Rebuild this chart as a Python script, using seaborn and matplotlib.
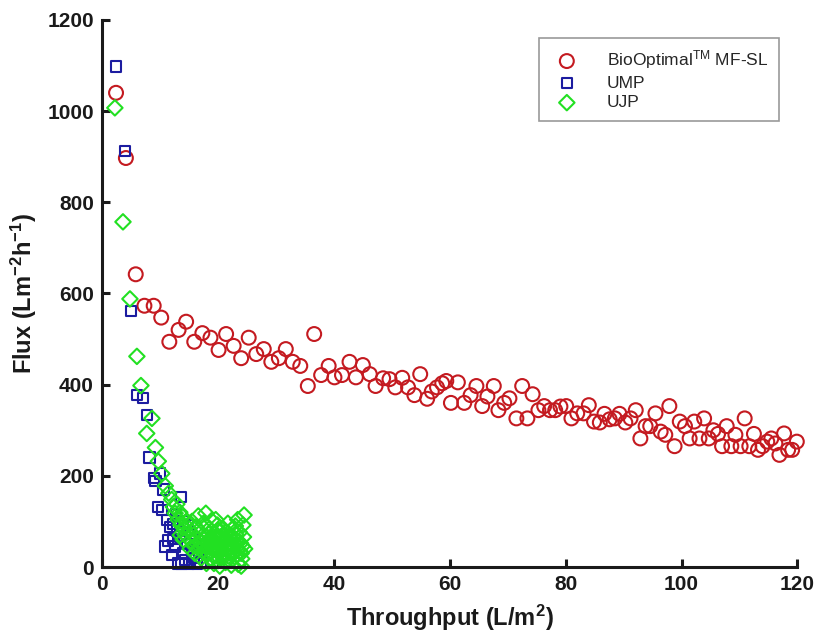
import matplotlib
matplotlib.use("Agg")
import matplotlib.pyplot as plt
import seaborn as sns
import pandas as pd

sns.set_theme(style="white")
plt.rcParams["font.family"] = ["Liberation Sans", "DejaVu Sans"]
plt.rcParams["mathtext.fontset"] = "custom"
plt.rcParams["mathtext.rm"] = "Liberation Sans"
plt.rcParams["mathtext.bf"] = "Liberation Sans:bold"
plt.rcParams["mathtext.default"] = "regular"

# BioOptimal MF-SL membrane
bio_x = [2.4, 4.1, 5.8, 7.3, 8.9, 10.2, 11.6, 13.2, 14.5, 15.9, 17.3, 18.7, 20.1, 21.4, 22.7,
         24.0, 25.3, 26.6, 27.9, 29.2, 30.5, 31.7, 32.9, 34.2, 35.5, 36.6, 37.8, 39.1, 40.1, 41.4,
         42.7, 43.8, 45.0, 46.2, 47.2, 48.5, 49.6, 50.6, 51.8, 52.8, 53.9, 54.9, 56.1, 56.9, 57.8,
         58.7, 59.4, 60.2, 61.4, 62.5, 63.6, 64.6, 65.6, 66.5, 67.6, 68.4, 69.4, 70.3, 71.5, 72.5,
         73.4, 74.3, 75.3, 76.3, 77.3, 78.2, 79.1, 80.1, 81.0, 82.0, 83.1, 84.0, 84.9, 85.9, 86.7,
         87.6, 88.5, 89.3, 90.3, 91.2, 92.1, 92.9, 93.8, 94.6, 95.5, 96.4, 97.2, 97.9, 98.8, 99.7,
         100.6, 101.4, 102.2, 103.1, 103.9, 104.7, 105.5, 106.3, 107.0, 107.8, 108.6, 109.3, 110.2,
         110.9, 111.7, 112.5, 113.2, 114.0, 114.8, 115.5, 116.2, 116.9, 117.7, 118.4, 119.1, 119.9]
bio_y = [1040, 897, 642, 573, 573, 547, 494, 520, 538, 494, 513, 503, 476, 511, 485,
         458, 503, 467, 478, 450, 458, 478, 450, 441, 397, 511, 421, 441, 416, 421,
         450, 416, 443, 423, 397, 414, 412, 394, 415, 394, 377, 423, 369, 385, 394,
         403, 408, 360, 405, 360, 377, 397, 353, 374, 397, 344, 360, 370, 326, 397,
         326, 379, 344, 353, 344, 344, 352, 353, 326, 337, 337, 355, 319, 317, 336,
         324, 326, 336, 317, 326, 344, 282, 309, 309, 337, 297, 290, 353, 265, 319,
         309, 282, 319, 282, 326, 282, 300, 292, 265, 309, 265, 290, 265,
         326, 265, 292, 257, 265, 275, 282, 271, 246, 293, 257, 257, 275]

# UMP membrane
ump_x = [2.4, 4.0, 5.0, 6.0, 7.0, 7.7, 8.2, 8.9, 9.2, 10.0, 9.7, 10.3, 10.6, 11.2, 11.7,
         10.8, 11.4, 12.0, 12.3, 12.6, 13.0, 13.2, 13.6, 13.5, 13.7, 14.0, 14.3, 14.6, 15.0,
         15.2, 15.5, 15.8, 16.1, 16.4, 16.7, 17.0, 13.9, 12.8, 14.8, 16.0, 12.2]
ump_y = [1098, 912, 562, 378, 370, 333, 240, 195, 188, 205, 132, 125, 170, 103, 88,
         45, 58, 26, 62, 45, 80, 8, 154, 67, 8, 30, 15, 50, 8,
         72, 30, 20, 48, 8, 35, 12, 100, 115, 92, 60, 95]

# UJP membrane
ujp_x = [2.2, 3.6, 4.8, 6.0, 6.7, 7.7, 8.6, 9.2, 9.7, 10.3, 10.9, 11.5, 12.0,
         12.3, 12.6, 12.9, 13.1, 13.4, 13.6, 13.9, 14.1, 14.3, 14.6, 14.8, 15.0, 15.3, 15.5,
         15.7, 15.9, 16.2, 16.4, 16.6, 16.8, 17.0, 17.2, 17.5, 17.7, 17.9, 18.1, 18.3, 18.5,
         18.7, 18.9, 19.1, 19.3, 19.5, 19.7, 19.9, 20.1, 20.3, 20.5, 20.7, 20.9, 21.1, 21.3,
         21.5, 21.7, 21.9, 22.1, 22.3, 22.5, 22.7, 22.9, 23.1, 23.3, 23.5, 23.7, 23.9, 24.1,
         24.3, 24.5, 24.6, 24.4,
         14.0, 15.2, 16.0, 17.1, 18.0, 19.0, 20.0, 21.0, 22.0, 23.0, 24.0, 16.5, 18.6, 20.6,
         22.6, 13.5, 19.6, 21.4, 23.4, 20.2,
         17.4, 17.8, 18.2, 18.4, 18.8, 19.2, 19.4, 19.8, 20.4, 20.8, 21.2, 21.6, 21.8, 22.2,
         22.4, 22.8, 23.2, 23.6, 23.8, 24.2, 19.0, 20.0, 21.0, 22.0, 23.0, 18.0, 24.0, 21.5,
         19.5, 22.5]
ujp_y = [1007, 757, 588, 462, 398, 293, 326, 262, 232, 205, 178, 162, 148,
         132, 118, 138, 104, 120, 92, 110, 86, 72, 98, 64, 84, 58, 100,
         70, 46, 88, 62, 112, 40, 76, 54, 96, 30, 118, 66, 44, 84,
         20, 102, 58, 8, 74, 36, 92, 50, 2, 66, 28, 84, 44, 10,
         58, 96, 32, 70, 4, 48, 86, 22, 60, 38, 6, 76, 52, 18,
         92, 114, 40, 66,
         60, 40, 30, 20, 90, 40, 80, 66, 52, 90, 2, 50, 60, 46,
         66, 70, 104, 76, 104, 20,
         62, 48, 30, 72, 54, 26, 44, 64, 36, 56, 30, 42, 24, 54,
         36, 44, 26, 56, 34, 46, 62, 14, 58, 40, 72, 8, 30, 14,
         50, 28]

series = [
    ("BioOptimal$^{TM}$ MF-SL", bio_x, bio_y, "o", "#c41a20", 100),
    ("UMP", ump_x, ump_y, "s", "#1c1ca0", 55),
    ("UJP", ujp_x, ujp_y, "D", "#22e022", 62),
]

fig = plt.figure(figsize=(8.17, 6.40), dpi=100)
ax = fig.add_axes([0.125, 0.114, 0.851, 0.855])

for label, xs, ys, mk, col, size in series:
    df = pd.DataFrame({"Throughput": xs, "Flux": ys})
    sns.scatterplot(data=df, x="Throughput", y="Flux", ax=ax, marker=mk, s=size,
                    facecolors="none", edgecolor=col, linewidth=1.5, label=label,
                    clip_on=False, zorder=3)

ax.set_xlim(0, 120)
ax.set_ylim(0, 1200)
ax.set_xticks([0, 20, 40, 60, 80, 100, 120])
ax.set_yticks([0, 200, 400, 600, 800, 1000, 1200])

for side in ("top", "right"):
    ax.spines[side].set_visible(False)
for side in ("left", "bottom"):
    ax.spines[side].set_linewidth(2.2)
    ax.spines[side].set_color("#1a1a1a")
    ax.spines[side].set_zorder(4)

ax.tick_params(direction="in", length=6, width=2.2, color="#1a1a1a",
               labelsize=15, pad=6, left=True, bottom=True)
for t in ax.get_xticklabels() + ax.get_yticklabels():
    t.set_fontweight("bold")
    t.set_color("#1a1a1a")

ax.set_xlabel("Throughput (L/m$^{\\mathbf{2}}$)", fontsize=17, fontweight="bold",
              color="#1a1a1a", labelpad=6)
ax.set_ylabel("Flux (Lm$^{\\mathbf{-2}}$h$^{\\mathbf{-1}}$)", fontsize=17, fontweight="bold",
              color="#1a1a1a", labelpad=6)

leg = ax.legend(loc="upper right", bbox_to_anchor=(0.973, 0.967), fontsize=12.5,
                frameon=True, fancybox=False, edgecolor="#808080", borderpad=0.6,
                handletextpad=1.3, labelspacing=0.25, borderaxespad=0)
leg.get_frame().set_linewidth(1.2)

fig.savefig("out.png", dpi=100, facecolor="white")
